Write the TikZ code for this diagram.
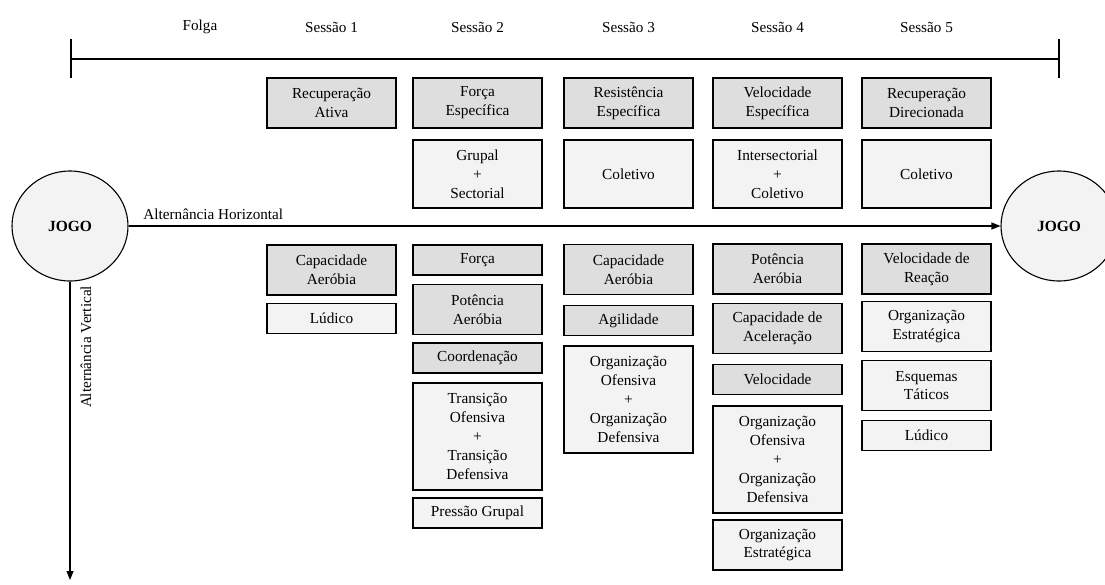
\documentclass[tikz,border=0pt]{standalone}
\usepackage{fontspec}
\setmainfont{Liberation Serif}
\usetikzlibrary{arrows.meta,shapes.geometric}
\definecolor{boxdark}{RGB}{222,222,222}
\definecolor{boxlight}{RGB}{243,243,243}
\tikzset{
  base/.style={draw=black, line width=1.1pt, inner sep=0pt, align=center,
    minimum width=129pt, font=\fontsize{15.3}{18.8}\selectfont},
  gbox/.style={base, fill=boxdark},
  lbox/.style={base, fill=boxlight},
  hdr/.style={font=\fontsize{15.2}{18}\selectfont},
  jogo/.style={ellipse, draw=black, line width=1.1pt, fill=boxlight, minimum width=116pt,
    minimum height=110pt, inner sep=0pt, font=\fontsize{15.5}{18}\selectfont\bfseries},
  conn/.style={line width=1.1pt},
  arr/.style={line width=1.1pt, -{Triangle[length=9pt,width=7pt]}}
}
\begin{document}
\begin{tikzpicture}[x=1pt,y=-1pt]
\useasboundingbox (0,0) rectangle (1105,584);
\clip (0,0) rectangle (1105,584);
% header labels
\node[hdr] (hf) at (200,27) {Folga};
\node[hdr] (h1) at (331.5,27) {Sessão 1};
\node[hdr] (h2) at (477.5,27) {Sessão 2};
\node[hdr] (h3) at (628.5,27) {Sessão 3};
\node[hdr] (h4) at (777.5,27) {Sessão 4};
\node[hdr] (h5) at (926.5,27) {Sessão 5};
% timeline
\coordinate (tl) at (71,59);
\coordinate (tr) at (1059,59);
\coordinate (tlt) at (71,39);
\coordinate (tlb) at (71,78);
\coordinate (trt) at (1059,39);
\coordinate (trb) at (1059,78);
\draw[conn] (tl) -- (tr);
\draw[conn] (tlt) -- (tlb);
\draw[conn] (trt) -- (trb);
% top rows
\node[gbox, minimum height=50pt] (a1) at (331.5,103) {Recuperação\\Ativa};
\node[gbox, minimum height=50pt] (a2) at (477.5,103) {Força\\Específica};
\node[gbox, minimum height=50pt] (a3) at (628.5,103) {Resistência\\Específica};
\node[gbox, minimum height=50pt] (a4) at (777.5,103) {Velocidade\\Específica};
\node[gbox, minimum height=50pt] (a5) at (926.5,103) {Recuperação\\Direcionada};
\node[lbox, minimum height=68pt] (b2) at (477.5,174) {Grupal\\+\\Sectorial};
\node[lbox, minimum height=68pt] (b3) at (628.5,174) {Coletivo};
\node[lbox, minimum height=68pt] (b4) at (777.5,174) {Intersectorial\\+\\Coletivo};
\node[lbox, minimum height=68pt] (b5) at (926.5,174) {Coletivo};
% circles
\node[jogo] (jl) at (70,226) {JOGO};
\node[jogo] (jr) at (1059,226) {JOGO};
\draw[arr] (jl.east) -- node[hdr, pos=0.0, anchor=south west, xshift=11pt, yshift=2pt] (lh) {Alternância Horizontal} (jr.west);
\coordinate (vend) at (70,580);
\draw[arr] (jl.south) -- (vend);
\node[hdr, rotate=90] (lv) at (86,347) {Alternância Vertical};
% column 1
\node[gbox, minimum height=50pt] (c1a) at (331.5,270) {Capacidade\\Aeróbia};
\node[lbox, minimum height=30pt] (c1b) at (331.5,318.5) {Lúdico};
% column 2
\node[gbox, minimum height=30pt] (c2a) at (477.5,260) {Força};
\node[gbox, minimum height=50pt] (c2b) at (477.5,309.5) {Potência\\Aeróbia};
\node[gbox, minimum height=30pt] (c2c) at (477.5,358) {Coordenação};
\node[lbox, minimum height=107pt] (c2d) at (477.5,436.5) {Transição\\Ofensiva\\+\\Transição\\Defensiva};
\node[lbox, minimum height=30pt] (c2e) at (477.5,513) {Pressão Grupal};
% column 3
\node[gbox, minimum height=50pt] (c3a) at (628.5,269.5) {Capacidade\\Aeróbia};
\node[gbox, minimum height=30pt] (c3b) at (628.5,320.5) {Agilidade};
\node[lbox, minimum height=107pt] (c3c) at (628.5,399.5) {Organização\\Ofensiva\\+\\Organização\\Defensiva};
% column 4
\node[gbox, minimum height=50pt] (c4a) at (777.5,269) {Potência\\Aeróbia};
\node[gbox, minimum height=50pt] (c4b) at (777.5,328.5) {Capacidade de\\Aceleração};
\node[gbox, minimum height=30pt] (c4c) at (777.5,379.5) {Velocidade};
\node[lbox, minimum height=107pt] (c4d) at (777.5,459.5) {Organização\\Ofensiva\\+\\Organização\\Defensiva};
\node[lbox, minimum height=50pt] (c4e) at (777.5,545) {Organização\\Estratégica};
% column 5
\node[gbox, minimum height=50pt] (c5a) at (926.5,269) {Velocidade de\\Reação};
\node[lbox, minimum height=50pt] (c5b) at (926.5,326.5) {Organização\\Estratégica};
\node[lbox, minimum height=50pt] (c5c) at (926.5,385.5) {Esquemas\\Táticos};
\node[lbox, minimum height=30pt] (c5d) at (926.5,435.5) {Lúdico};
\end{tikzpicture}
\end{document}
